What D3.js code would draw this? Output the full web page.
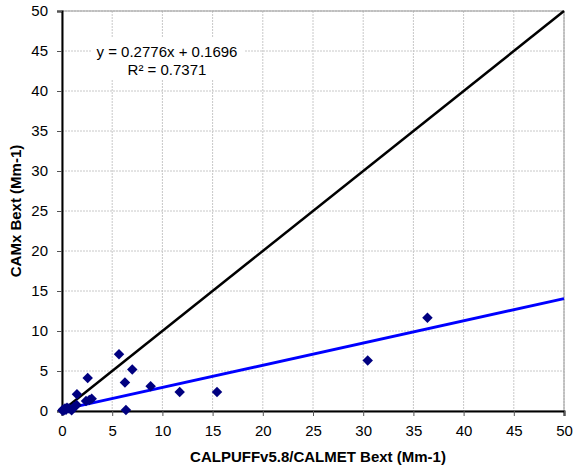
<!DOCTYPE html>
<html>
<head>
<meta charset="utf-8">
<script src="https://cdn.jsdelivr.net/npm/d3@7"></script>
<style>
  body { margin: 0; background: #fff; }
  svg text { font-family: Arial, "Liberation Sans", sans-serif; fill: #000; }
</style>
</head>
<body>
<div id="chart"></div>
<script>
// dados
var xVals = [0.05, 0.1, 0.2, 0.3, 0.4, 0.5, 0.7, 0.96, 1.2, 1.46, 1.49, 2.39, 2.72, 2.96, 2.56, 5.68, 7.0, 6.27, 6.37, 8.83, 11.72, 15.44, 30.45, 36.4];
var yVals = [0.05, 0.2, 0.1, 0.3, 0.15, 0.4, 0.3, 0.1, 0.5, 0.75, 2.1, 1.25, 1.38, 1.54, 4.13, 7.1, 5.2, 3.55, 0.12, 3.1, 2.38, 2.38, 6.3, 11.65];
var tickVals = [0, 5, 10, 15, 20, 25, 30, 35, 40, 45, 50];
var trend = { slope: 0.2776, intercept: 0.1696 };
var eqLabels = ["y = 0.2776x + 0.1696", "R\u00b2 = 0.7371"];

var W = 573, H = 470;
var margin = { top: 11, right: 9, bottom: 59, left: 62 },
    width = W - margin.left - margin.right,
    height = H - margin.top - margin.bottom;

var svg = d3.select("#chart").append("svg")
  .attr("width", W).attr("height", H);
var g = svg.append("g")
  .attr("transform", "translate(" + margin.left + "," + margin.top + ")");

var x = d3.scaleLinear().domain([0, 50]).range([0, width]);
var y = d3.scaleLinear().domain([0, 50]).range([height, 0]);

// grade
g.append("g").selectAll("line").data(tickVals.slice(1)).enter().append("line")
  .attr("x1", 0).attr("x2", width)
  .attr("y1", function(d) { return y(d); }).attr("y2", function(d) { return y(d); })
  .attr("stroke", "#c8c8c8").attr("stroke-dasharray", "2,1");
g.append("g").selectAll("line").data(tickVals.slice(1)).enter().append("line")
  .attr("y1", 0).attr("y2", height)
  .attr("x1", function(d) { return x(d); }).attr("x2", function(d) { return x(d); })
  .attr("stroke", "#c8c8c8").attr("stroke-dasharray", "2,1");

// borda da area
g.append("rect").attr("width", width).attr("height", height)
  .attr("fill", "none").attr("stroke", "#9a9a9a").attr("stroke-width", 1);

// caixa da equacao
g.append("rect").attr("x", 30).attr("y", 27).attr("width", 153).attr("height", 42).attr("fill", "#fff");
g.selectAll(".eq").data(eqLabels).enter().append("text")
  .attr("class", "eq")
  .attr("x", 105).attr("y", function(d, i) { return 46 + i * 18; })
  .attr("text-anchor", "middle").style("font-size", "15px")
  .text(function(d) { return d; });

// eixos
var xAxis = g.append("g").attr("transform", "translate(0," + height + ")")
  .call(d3.axisBottom(x).tickValues(tickVals).tickSize(5).tickPadding(9));
var yAxis = g.append("g")
  .call(d3.axisLeft(y).tickValues(tickVals).tickSize(5).tickPadding(9));
[xAxis, yAxis].forEach(function(a) {
  a.select(".domain").attr("stroke", "#000").attr("stroke-width", 2);
  a.selectAll(".tick line").attr("stroke", "#555");
  a.selectAll(".tick text").style("font-size", "15px").style("font-family", "Arial, 'Liberation Sans', sans-serif");
});

// linha 1:1
g.append("line")
  .attr("x1", x(0)).attr("y1", y(0)).attr("x2", x(50)).attr("y2", y(50))
  .attr("stroke", "#000").attr("stroke-width", 2.5);

// linha de tendencia
g.append("line")
  .attr("x1", x(0)).attr("y1", y(trend.intercept))
  .attr("x2", x(50)).attr("y2", y(trend.slope * 50 + trend.intercept))
  .attr("stroke", "#0000ff").attr("stroke-width", 3);

// pontos
var pts = xVals.map(function(v, i) { return { x: v, y: yVals[i] }; });
g.selectAll(".pt").data(pts).enter().append("path")
  .attr("class", "pt")
  .attr("d", d3.symbol().type(d3.symbolDiamond2).size(70))
  .attr("transform", function(d) { return "translate(" + x(d.x) + "," + y(d.y) + ")"; })
  .attr("fill", "#000080");

// titulos
svg.append("text").attr("x", 318).attr("y", 462)
  .attr("text-anchor", "middle").style("font-size", "15px").style("font-weight", "bold")
  .text("CALPUFFv5.8/CALMET Bext (Mm-1)");
svg.append("text").attr("transform", "translate(21,211) rotate(-90)")
  .attr("text-anchor", "middle").style("font-size", "15px").style("font-weight", "bold")
  .text("CAMx Bext (Mm-1)");
</script>
</body>
</html>
